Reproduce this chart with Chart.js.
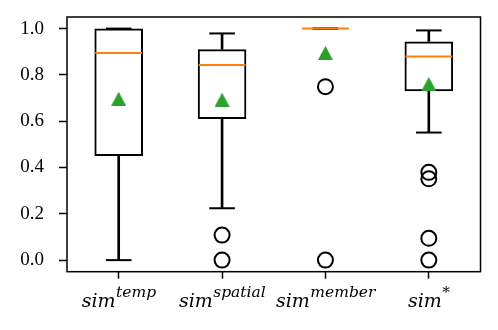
<!DOCTYPE html>
<html>
<head>
<meta charset="utf-8">
<script src="https://cdn.jsdelivr.net/npm/chart.js@4/dist/chart.umd.min.js"></script>
<style>
  html, body { margin: 0; padding: 0; background: #fff; }
  #wrap { width: 498px; height: 330px; }
</style>
</head>
<body>
<div id="wrap"><canvas id="c" width="498" height="330"></canvas></div>
<script>
// ---- data ----
const categories = ['temp', 'spatial', 'member', '*'];
const superscripts = ['temp', 'spatial', 'member', '*'];
const q1 = [0.45, 0.61, 1.0, 0.729];
const q3 = [1.0, 0.911, 1.0, 0.944];
const medians = [0.895, 0.843, 1.0, 0.879];
const whiskerLow = [0.0, 0.224, 1.0, 0.551];
const whiskerHigh = [1.0, 0.979, 1.0, 0.992];
const means = [0.697, 0.693, 0.895, 0.761];
const outliers = [[], [0.108, 0.0], [0.749, 0.0], [0.379, 0.351, 0.094, 0.0]];
const yTickValues = [0.0, 0.2, 0.4, 0.6, 0.8, 1.0];

// ---- matplotlib-like '^' marker ----
function triangleMarker(w, h, color) {
  const cv = document.createElement('canvas');
  cv.width = w; cv.height = h;
  const g = cv.getContext('2d');
  g.fillStyle = color;
  g.beginPath();
  g.moveTo(w / 2, 0);
  g.lineTo(w, h);
  g.lineTo(0, h);
  g.closePath();
  g.fill();
  return cv;
}

const pts = arr => arr.map((v, i) => ({ x: categories[i], y: v }));
const outlierPts = [];
outliers.forEach((list, i) => list.forEach(v => outlierPts.push({ x: categories[i], y: v })));

const framePlugin = {
  id: 'frameAndLabels',
  afterDraw(chart) {
    const { ctx, chartArea: a, scales } = chart;
    ctx.save();
    ctx.strokeStyle = '#000';
    ctx.lineWidth = 1.5;
    ctx.strokeRect(a.left, a.top, a.right - a.left, a.bottom - a.top);
    // x labels: italic "sim" with superscript
    const base = 306.5;
    const mainFont = 'italic 19px "DejaVu Serif"';
    const supFont = 'italic 15.5px "DejaVu Serif"';
    ctx.fillStyle = '#000';
    ctx.textBaseline = 'alphabetic';
    ctx.textAlign = 'left';
    categories.forEach((c, i) => {
      const cx = scales.x.getPixelForValue(i);
      ctx.font = mainFont;
      const w1 = ctx.measureText('sim').width;
      ctx.font = supFont;
      const w2 = ctx.measureText(superscripts[i]).width;
      const start = cx - (w1 + w2) / 2;
      ctx.font = mainFont;
      ctx.fillText('sim', start, base);
      ctx.font = supFont;
      ctx.fillText(superscripts[i], start + w1 + 0.5, base - 10);
    });
    ctx.restore();
  }
};

new Chart(document.getElementById('c'), {
  type: 'bar',
  data: {
    labels: categories,
    datasets: [
      { // boxes
        type: 'bar', data: q1.map((v, i) => [v, q3[i]]),
        backgroundColor: 'rgba(0,0,0,0)', borderColor: '#000', borderWidth: 2,
        borderSkipped: false, barPercentage: 0.47, categoryPercentage: 1, grouped: false, order: 6
      },
      { // lower whiskers
        type: 'bar', data: whiskerLow.map((v, i) => [v, q1[i]]),
        backgroundColor: '#000', borderWidth: 0, barThickness: 2, grouped: false, order: 7
      },
      { // upper whiskers
        type: 'bar', data: whiskerHigh.map((v, i) => [q3[i], v]),
        backgroundColor: '#000', borderWidth: 0, barThickness: 2, grouped: false, order: 7
      },
      { // caps
        type: 'line', data: pts(whiskerLow).concat(pts(whiskerHigh)), showLine: false,
        pointStyle: 'line', pointRadius: 12.8, pointBorderWidth: 2, pointBorderColor: '#000',
        borderColor: '#000', clip: false, order: 5
      },
      { // medians
        type: 'line', data: pts(medians), showLine: false,
        pointStyle: 'line', pointRadius: 23.5, pointBorderWidth: 2, pointBorderColor: '#ff7f0e',
        borderColor: '#ff7f0e', clip: false, order: 3
      },
      { // outliers
        type: 'line', data: outlierPts, showLine: false,
        pointStyle: 'circle', pointRadius: 7.5, pointBorderWidth: 2,
        pointBorderColor: '#000', pointBackgroundColor: 'rgba(0,0,0,0)', clip: false, order: 2
      },
      { // means
        type: 'line', data: pts(means), showLine: false,
        pointStyle: triangleMarker(15, 14, '#2ca02c'), pointRadius: 7, clip: false, order: 1
      }
    ]
  },
  plugins: [framePlugin],
  options: {
    responsive: false,
    animation: false,
    events: [],
    layout: { autoPadding: false, padding: { top: 17, right: 17.5, left: 0, bottom: 0 } },
    plugins: { legend: { display: false }, tooltip: { enabled: false } },
    scales: {
      x: {
        type: 'category', offset: true,
        grid: { display: true, offset: false, drawOnChartArea: false, drawTicks: true,
                tickLength: 7, tickWidth: 1.5, tickColor: '#000' },
        border: { display: false },
        ticks: { display: false },
        afterFit: s => { s.height = 58.3; s.paddingLeft = 0; s.paddingRight = 0; }
      },
      y: {
        type: 'linear', min: -0.05, max: 1.05,
        afterBuildTicks: s => { s.ticks = yTickValues.map(v => ({ value: v })); },
        grid: { display: true, drawOnChartArea: false, drawTicks: true,
                tickLength: 8, tickWidth: 1.5, tickColor: '#000' },
        border: { display: false },
        ticks: {
          padding: 15, color: '#000',
          font: { family: '"Liberation Serif"', size: 19 },
          callback: v => Number(v).toFixed(1)
        },
        afterFit: s => { s.width = 67; s.paddingTop = 0; s.paddingBottom = 0; }
      }
    }
  }
});
</script>
</body>
</html>
